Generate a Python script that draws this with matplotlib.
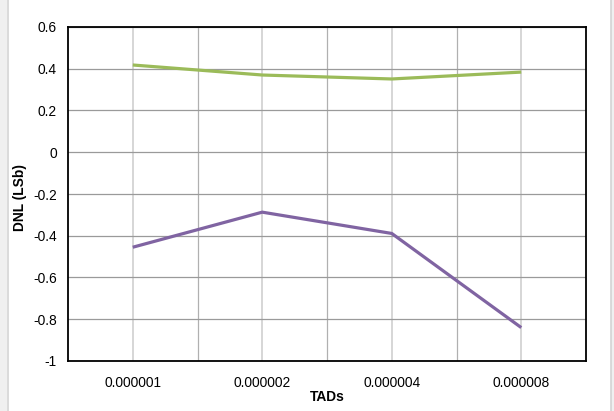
import numpy as np
import matplotlib
matplotlib.use('Agg')
import matplotlib.pyplot as plt
from matplotlib.patches import Rectangle
from matplotlib.ticker import FixedLocator

plt.rcParams['font.family'] = ['Liberation Sans', 'DejaVu Sans']

# data
tads = ['0.000001', '0.000002', '0.000004', '0.000008']
dnl_green = [0.418, 0.370, 0.351, 0.384]
dnl_purple = [-0.455, -0.287, -0.389, -0.840]
y_ticks = [0.6, 0.4, 0.2, 0, -0.2, -0.4, -0.6, -0.8, -1]
y_labels = ['0.6', '0.4', '0.2', '0', '-0.2', '-0.4', '-0.6', '-0.8', '-1']

W, H = 614, 411
fig = plt.figure(figsize=(W / 100, H / 100), dpi=100)

# chart area side strips like the spreadsheet frame
fig.patches.append(Rectangle((0, 0), 7 / W, 1, transform=fig.transFigure,
                             facecolor='#f0f0f0', edgecolor='none', zorder=0))
fig.patches.append(Rectangle((611 / W, 0), 3 / W, 1, transform=fig.transFigure,
                             facecolor='#f0f0f0', edgecolor='none', zorder=0))
fig.lines.append(plt.Line2D([7.5 / W, 7.5 / W], [0, 1], transform=fig.transFigure,
                            color='#d4d4d4', lw=1.2))
fig.lines.append(plt.Line2D([611 / W, 611 / W], [0, 1], transform=fig.transFigure,
                            color='#d4d4d4', lw=1.2))

left, right, top, bottom = 68, 586, 27, 361
ax = fig.add_axes([left / W, (H - bottom) / H, (right - left) / W, (bottom - top) / H])

x = np.arange(len(tads))
ax.plot(x, dnl_green, color='#9bbb59', lw=2.3, solid_capstyle='butt', zorder=3)
ax.plot(x, dnl_purple, color='#8064a2', lw=2.3, solid_capstyle='butt', zorder=3)

ax.set_xlim(-0.5, len(tads) - 0.5)
ax.set_ylim(-1, 0.6)
ax.set_xticks(x)
ax.set_xticklabels(tads, fontsize=9.9)
ax.xaxis.set_minor_locator(FixedLocator(x[:-1] + 0.5))
ax.set_yticks(y_ticks)
ax.set_yticklabels(y_labels, fontsize=9.9)
ax.tick_params(axis='both', which='both', length=0)
ax.tick_params(axis='x', pad=10.5)
ax.tick_params(axis='y', pad=8)

ax.grid(axis='y', which='major', color='#9a9a9a', lw=0.9)
ax.grid(axis='x', which='major', color='#d0d0d0', lw=1.2)
ax.grid(axis='x', which='minor', color='#b0b0b0', lw=0.9)
ax.set_axisbelow(True)

for s in ax.spines.values():
    s.set_color('black')
    s.set_linewidth(1.3)

ax.set_xlabel('TADs', fontsize=9.9, fontweight='bold')
ax.xaxis.set_label_coords((327 - left) / (right - left), -(397 - bottom) / (bottom - top),
                          transform=ax.transAxes)
ax.xaxis.label.set_va('center')
ax.set_ylabel('DNL (LSb)', fontsize=9.9, fontweight='bold')
ax.yaxis.set_label_coords(-(left - 20) / (right - left), 0.5 - 4 / (bottom - top),
                          transform=ax.transAxes)
ax.yaxis.label.set_va('center')

fig.savefig('out.png', dpi=100)
